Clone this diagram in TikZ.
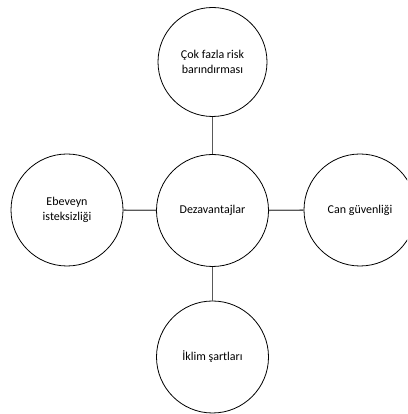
\documentclass[tikz,border=0pt]{standalone}
\usepackage{fontspec}
\setmainfont{Carlito}
\begin{document}
\begin{tikzpicture}[x=1pt,y=1pt,
  bubble/.style={circle,draw=black,line width=0.8pt,minimum size=112pt,inner sep=0pt,align=center,font=\fontsize{12}{14.5}\selectfont},
  link/.style={draw=black!65,line width=1.4pt}]
\useasboundingbox (0,0) rectangle (407,414);
\clip (0,0) rectangle (407,414);
\node[bubble] (c) at (212.5,203.5) {Dezavantajlar};
\node[bubble,minimum size=109pt] (t) at (212.5,352) {Çok fazla risk\\barındırması};
\node[bubble] (l) at (67,204) {Ebeveyn\\isteksizliği};
\node[bubble] (r) at (360,204) {Can güvenliği};
\node[bubble] (b) at (212.5,57) {İklim şartları};
\draw[link] (t) -- (c);
\draw[link] (c) -- (b);
\draw[link] (l) -- (c);
\draw[link] (c) -- (r);
\end{tikzpicture}
\end{document}
